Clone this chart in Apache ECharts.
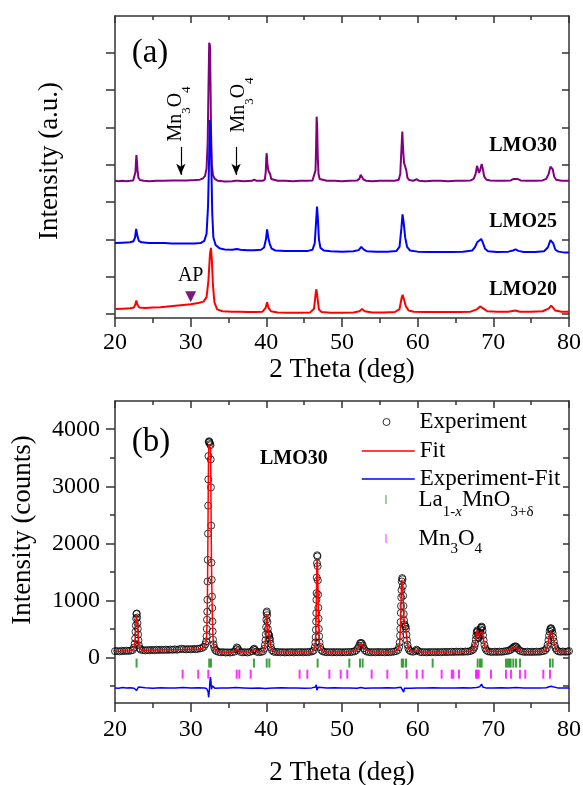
<!DOCTYPE html>
<html><head><meta charset="utf-8">
<script src="https://cdn.jsdelivr.net/npm/echarts@6/dist/echarts.min.js"></script>
<style>html,body{margin:0;padding:0;background:#fff}#c{width:583px;height:785px}</style>
</head><body><div id="c"></div><script>
const FONT = "Liberation Serif";

// ---------- Panel (a): offset XRD patterns (arb. units) ----------
const lmo30 = [[20,3.57],[20.5,3.56],[21,3.57],[21.5,3.56],[22,3.57],[22.4,3.58],[22.6,3.63],[22.7,3.8],[22.78,4.1],[22.83,4.26],[22.9,4.1],[23.0,3.8],[23.1,3.65],[23.3,3.59],[23.8,3.57],[24.5,3.56],[25.5,3.57],[26.5,3.57],[27.5,3.58],[28.5,3.58],[29.5,3.58],[30.5,3.59],[31.2,3.6],[31.6,3.63],[31.9,3.7],[32.1,3.9],[32.25,4.6],[32.35,6.0],[32.45,7.27],[32.55,7.2],[32.62,6.2],[32.7,4.8],[32.8,4.0],[32.95,3.72],[33.2,3.62],[33.6,3.57],[34.5,3.55],[35.5,3.56],[35.9,3.57],[36.1,3.61],[36.3,3.57],[37,3.56],[38.1,3.57],[38.4,3.6],[38.7,3.57],[39.5,3.57],[39.8,3.6],[39.92,3.8],[40.0,4.2],[40.05,4.31],[40.15,4.0],[40.27,3.84],[40.4,3.86],[40.5,3.75],[40.65,3.62],[40.9,3.58],[41.5,3.57],[42.5,3.57],[43.5,3.56],[44.5,3.57],[45.5,3.57],[46.1,3.58],[46.35,3.62],[46.5,3.85],[46.58,4.5],[46.65,5.29],[46.72,5.0],[46.8,4.2],[46.9,3.75],[47.05,3.62],[47.3,3.58],[48,3.57],[49,3.57],[50,3.56],[51,3.57],[52,3.58],[52.3,3.62],[52.47,3.73],[52.65,3.68],[52.85,3.6],[53.2,3.57],[54,3.56],[55,3.57],[56,3.57],[57,3.57],[57.5,3.6],[57.7,3.75],[57.85,4.4],[57.97,4.89],[58.08,4.4],[58.2,4.05],[58.38,4.07],[58.5,3.85],[58.65,3.65],[58.9,3.59],[59.4,3.57],[59.9,3.61],[60.2,3.57],[61,3.56],[62,3.57],[63,3.57],[64,3.56],[65,3.57],[66,3.57],[67,3.58],[67.4,3.62],[67.65,3.75],[67.85,3.97],[67.95,3.95],[68.1,3.78],[68.25,3.85],[68.46,4.02],[68.6,3.9],[68.8,3.68],[69.1,3.6],[69.6,3.58],[70.5,3.57],[71.5,3.57],[72.3,3.58],[72.7,3.62],[72.95,3.65],[73.2,3.62],[73.6,3.58],[74.5,3.57],[75.5,3.57],[76.5,3.58],[77.0,3.62],[77.3,3.75],[77.55,3.95],[77.7,3.98],[77.85,3.88],[78.05,3.68],[78.3,3.6],[79,3.57],[80,3.57]];
const lmo25 = [[20,1.9],[21,1.91],[22,1.92],[22.45,1.95],[22.65,2.05],[22.8,2.28],[22.95,2.1],[23.15,1.96],[23.5,1.92],[24.5,1.9],[25.5,1.9],[26.5,1.9],[27.5,1.89],[28.5,1.89],[29.5,1.89],[30.5,1.89],[31.3,1.9],[31.8,1.96],[32.1,2.15],[32.3,2.9],[32.45,4.3],[32.55,5.2],[32.65,4.9],[32.75,3.8],[32.85,2.7],[33.0,2.05],[33.3,1.85],[33.8,1.76],[34.5,1.73],[35.5,1.72],[36.1,1.74],[36.6,1.72],[37.5,1.71],[38.4,1.71],[39.3,1.72],[39.7,1.78],[39.95,2.0],[40.1,2.27],[40.25,2.05],[40.45,1.88],[40.7,1.75],[41.2,1.7],[42.5,1.69],[44,1.69],[45.5,1.69],[46.1,1.72],[46.4,1.9],[46.6,2.55],[46.7,2.88],[46.8,2.6],[46.95,2.0],[47.15,1.77],[47.6,1.7],[48.5,1.68],[50,1.67],[51.5,1.68],[52.2,1.71],[52.55,1.8],[52.85,1.73],[53.3,1.68],[54.5,1.67],[56,1.67],[57.2,1.69],[57.6,1.8],[57.85,2.3],[58.0,2.67],[58.15,2.45],[58.35,2.05],[58.6,1.8],[59,1.7],[60,1.67],[61.5,1.66],[63,1.66],[64.5,1.66],[66,1.67],[67.2,1.7],[67.6,1.8],[67.9,1.93],[68.1,1.92],[68.4,2.01],[68.6,1.92],[68.9,1.75],[69.3,1.68],[70.5,1.66],[72,1.67],[72.6,1.7],[72.95,1.73],[73.3,1.69],[74,1.66],[75.5,1.66],[76.7,1.68],[77.2,1.78],[77.55,1.98],[77.7,2.0],[77.9,1.9],[78.2,1.72],[78.6,1.67],[79.3,1.65],[80,1.65]];
const lmo20 = [[20,0.13],[21,0.14],[22,0.15],[22.5,0.17],[22.7,0.26],[22.82,0.36],[22.95,0.25],[23.2,0.17],[24,0.16],[25,0.17],[26,0.18],[27,0.2],[28,0.22],[29,0.24],[30,0.26],[31,0.29],[31.7,0.33],[32.1,0.45],[32.35,0.9],[32.55,1.6],[32.68,1.77],[32.8,1.45],[32.95,0.75],[33.15,0.3],[33.5,0.12],[34.2,0.07],[35.5,0.06],[36.5,0.06],[37.5,0.05],[38.5,0.05],[39.5,0.06],[39.9,0.16],[40.1,0.31],[40.3,0.16],[40.6,0.07],[41.5,0.04],[43,0.03],[44.5,0.03],[45.8,0.04],[46.3,0.14],[46.55,0.6],[46.62,0.66],[46.75,0.45],[46.95,0.12],[47.3,0.05],[48.5,0.03],[50,0.03],[51.5,0.04],[52.3,0.07],[52.65,0.13],[53,0.07],[54,0.04],[55.5,0.04],[57,0.05],[57.6,0.13],[57.9,0.45],[58.02,0.51],[58.2,0.38],[58.45,0.2],[58.8,0.09],[59.5,0.06],[61,0.05],[62.5,0.05],[64,0.05],[65.5,0.05],[67,0.06],[67.8,0.12],[68.25,0.2],[68.45,0.21],[68.7,0.14],[69.2,0.07],[70.5,0.06],[72,0.06],[72.9,0.09],[73.5,0.06],[75,0.06],[76.5,0.07],[77.3,0.14],[77.65,0.22],[77.85,0.2],[78.2,0.09],[79,0.06],[80,0.06]];
const intensityTicks = [0,1,2,3,4,5,6,7];
const thetaTicks = [20,30,40,50,60,70,80];

// ---------- Panel (b): Rietveld refinement of LMO30 (counts) ----------
const experiment = [[20.0,108],[20.3,112],[20.6,104],[20.9,115],[21.2,110],[21.5,118],[21.8,112],[22.1,120],[22.35,130],
[22.5,170],[22.6,240],[22.66,330],[22.71,450],[22.75,560],[22.79,680],[22.83,760],[22.88,770],[22.93,700],[22.97,600],[23.01,500],[23.05,400],[23.1,300],[23.17,210],[23.26,160],[23.4,135],
[23.7,128],[24.0,122],[24.3,130],[24.6,124],[24.9,132],[25.2,126],[25.5,134],[25.8,128],[26.1,135],[26.4,129],[26.7,136],[27.0,130],[27.3,138],[27.6,132],[27.9,140],[28.2,134],[28.5,142],[28.8,150],[29.1,145],[29.4,140],[29.7,146],[30.0,140],[30.3,148],[30.6,142],[30.9,150],[31.2,155],[31.5,165],[31.75,185],
[31.95,230],[32.05,280],[32.1,370],[32.13,500],[32.16,660],[32.19,800],[32.21,1010],[32.23,1330],[32.26,1710],[32.29,2170],[32.31,2660],[32.33,3120],[32.35,3530],[32.38,3776],[32.44,3790],[32.5,3770],[32.56,3740],[32.62,3720],[32.65,3470],[32.68,2980],[32.71,2310],[32.74,1660],[32.78,1360],[32.82,1066],[32.85,864],[32.88,630],[32.91,455],[32.95,310],[33.02,230],[33.12,170],[33.25,130],
[33.4,110],[33.7,95],[34.0,88],[34.3,92],[34.6,85],[34.9,90],[35.2,84],[35.5,92],[35.8,100],[36.0,140],[36.1,175],[36.2,160],[36.35,125],
[36.6,95],[36.9,88],[37.2,92],[37.5,86],[37.8,94],[38.1,110],[38.3,140],[38.4,152],[38.5,130],[38.7,100],[39.0,90],[39.3,96],[39.55,105],
[39.72,150],[39.82,220],[39.88,300],[39.93,400],[39.97,530],[40.0,660],[40.03,780],[40.07,805],[40.11,740],[40.15,620],[40.2,500],[40.26,420],[40.32,400],[40.38,380],[40.43,339],[40.48,309],[40.55,240],[40.63,170],[40.75,125],
[40.95,100],[41.25,92],[41.55,96],[41.85,88],[42.15,94],[42.45,86],[42.75,92],[43.05,88],[43.35,95],[43.65,87],[43.95,93],[44.25,90],[44.55,96],[44.85,88],[45.15,94],[45.45,90],[45.75,97],[46.05,105],[46.25,120],
[46.4,180],[46.48,260],[46.52,355],[46.55,484],[46.58,630],[46.6,776],[46.62,1010],[46.64,1126],[46.66,1400],[46.69,1650],[46.72,1790],[46.75,1770],[46.78,1600],[46.81,1350],[46.84,1100],[46.87,870],[46.9,680],[46.94,500],[46.98,370],[47.04,260],[47.12,180],[47.25,130],
[47.45,105],[47.75,95],[48.05,90],[48.35,96],[48.65,88],[48.95,94],[49.25,89],[49.55,95],[49.85,88],[50.15,93],[50.45,90],[50.75,96],[51.05,92],[51.35,98],[51.65,105],[51.9,125],
[52.1,160],[52.25,200],[52.38,245],[52.5,255],[52.62,245],[52.75,210],[52.88,160],[53.02,125],
[53.25,102],[53.55,94],[53.85,88],[54.15,95],[54.45,89],[54.75,96],[55.05,90],[55.35,94],[55.65,88],[55.95,95],[56.25,90],[56.55,97],[56.85,100],[57.15,110],[57.4,130],
[57.55,180],[57.62,260],[57.67,380],[57.71,500],[57.74,620],[57.77,780],[57.8,900],[57.83,1050],[57.86,1180],[57.9,1330],[57.95,1390],[58.0,1370],[58.04,1250],[58.08,1080],[58.12,900],[58.16,760],[58.2,650],[58.26,580],[58.33,545],[58.4,540],[58.46,500],[58.52,397],[58.58,300],[58.66,220],[58.76,160],[58.9,125],
[59.1,105],[59.4,98],[59.7,110],[59.85,135],[60.0,120],[60.3,96],[60.6,90],[60.9,95],[61.2,88],[61.5,94],[61.8,90],[62.1,96],[62.4,89],[62.7,95],[63.0,90],[63.3,96],[63.6,92],[63.9,97],[64.2,93],[64.5,99],[64.8,95],[65.1,100],[65.4,96],[65.7,101],[66.0,97],[66.3,103],[66.6,100],[66.9,108],[67.15,120],[67.35,140],
[67.5,180],[67.6,240],[67.68,310],[67.74,380],[67.8,440],[67.86,472],[67.92,455],[67.98,400],[68.04,350],[68.1,340],[68.17,380],[68.24,440],[68.3,490],[68.37,520],[68.44,540],[68.5,525],[68.57,470],[68.64,390],[68.72,300],[68.82,220],[68.94,160],[69.08,125],
[69.3,105],[69.6,98],[69.9,94],[70.2,100],[70.5,95],[70.8,101],[71.1,97],[71.4,104],[71.7,110],[72.0,118],[72.25,130],
[72.45,150],[72.6,170],[72.75,185],[72.9,195],[73.05,185],[73.2,160],[73.38,130],
[73.6,110],[73.9,100],[74.2,95],[74.5,100],[74.8,94],[75.1,99],[75.4,95],[75.7,101],[76.0,97],[76.3,104],[76.6,110],[76.85,125],
[77.05,160],[77.18,220],[77.28,300],[77.36,380],[77.44,450],[77.52,495],[77.6,514],[77.68,500],[77.76,470],[77.84,420],[77.92,350],[78.0,280],[78.1,210],[78.22,160],[78.38,125],
[78.6,105],[78.9,98],[79.2,104],[79.5,97],[79.8,103],[80.0,110]];
const fit = [[20,105],[21,112],[22,118],[22.4,135],[22.55,190],[22.65,310],[22.72,470],[22.78,650],[22.84,740],[22.9,740],[22.96,620],[23.02,470],[23.1,310],[23.2,190],[23.35,140],[23.7,125],[25,128],[27,133],[28.9,138],[29.5,140],[31,145],[31.5,160],[31.8,185],[32.0,250],[32.1,360],[32.16,600],[32.2,900],[32.24,1400],[32.28,2100],[32.32,2900],[32.36,3500],[32.4,3740],[32.45,3760],[32.5,3740],[32.56,3720],[32.62,3650],[32.66,3200],[32.7,2500],[32.74,1800],[32.78,1350],[32.83,980],[32.88,640],[32.94,380],[33.02,230],[33.15,150],[33.4,110],[34,92],[35.5,90],[35.95,110],[36.1,150],[36.25,115],[36.6,92],[38.0,92],[38.25,110],[38.4,135],[38.55,105],[39,92],[39.6,110],[39.8,190],[39.9,330],[39.97,560],[40.03,760],[40.08,780],[40.14,640],[40.2,500],[40.28,430],[40.36,390],[40.45,330],[40.55,230],[40.68,140],[41,100],[43,92],[45,93],[46,100],[46.35,150],[46.47,250],[46.53,420],[46.58,700],[46.62,1050],[46.66,1450],[46.7,1720],[46.74,1740],[46.78,1580],[46.82,1280],[46.86,950],[46.9,680],[46.96,430],[47.04,250],[47.15,160],[47.4,110],[48,93],[51,95],[51.8,115],[52.1,160],[52.3,215],[52.45,240],[52.6,235],[52.78,195],[52.95,140],[53.2,105],[54,92],[56.5,95],[57.2,115],[57.5,160],[57.62,260],[57.7,450],[57.76,720],[57.82,1020],[57.87,1250],[57.92,1360],[57.97,1380],[58.02,1300],[58.08,1080],[58.14,830],[58.2,660],[58.28,560],[58.36,530],[58.42,510],[58.5,420],[58.6,290],[58.72,190],[58.88,130],[59.2,102],[59.7,108],[59.87,128],[60.05,112],[60.5,95],[63,95],[66,100],[67,112],[67.35,140],[67.55,210],[67.68,320],[67.78,430],[67.86,470],[67.94,440],[68.02,370],[68.1,340],[68.2,380],[68.3,440],[68.4,470],[68.48,465],[68.58,420],[68.68,330],[68.8,230],[68.95,150],[69.2,110],[70.5,98],[72,115],[72.45,148],[72.7,175],[72.9,185],[73.1,172],[73.35,132],[73.7,105],[75,97],[76.5,106],[76.9,125],[77.1,165],[77.25,260],[77.38,380],[77.5,445],[77.6,458],[77.7,450],[77.82,400],[77.95,310],[78.08,220],[78.25,150],[78.5,112],[79,100],[80,105]];
const difference = [[20,-535],[20.5,-540],[21,-530],[21.5,-538],[22,-533],[22.5,-540],[22.75,-560],[22.85,-580],[22.95,-545],[23.1,-520],[23.3,-538],[24,-534],[25,-540],[26,-532],[27,-537],[28,-535],[29,-530],[30,-538],[31,-533],[31.8,-537],[32.1,-545],[32.2,-530],[32.3,-600],[32.38,-700],[32.42,-710],[32.48,-560],[32.55,-420],[32.62,-345],[32.68,-420],[32.75,-560],[32.85,-500],[32.95,-520],[33.2,-540],[34,-535],[35,-538],[36,-530],[36.2,-525],[37,-535],[38,-540],[39,-535],[39.9,-545],[40.05,-575],[40.15,-515],[40.3,-540],[41,-535],[42,-532],[43,-538],[44,-535],[45,-540],[46,-535],[46.5,-520],[46.6,-480],[46.68,-575],[46.75,-585],[46.85,-525],[47,-540],[48,-535],[49,-532],[50,-538],[51,-535],[52,-540],[52.5,-528],[53,-540],[54,-535],[55,-538],[56,-532],[57,-536],[57.8,-525],[57.9,-500],[58.05,-560],[58.15,-610],[58.25,-540],[58.5,-530],[59,-540],[60,-535],[61,-538],[62,-532],[63,-536],[64,-535],[65,-538],[66,-533],[67,-536],[67.8,-528],[68.2,-515],[68.45,-468],[68.6,-520],[69,-535],[70,-538],[71,-533],[72,-536],[73,-530],[74,-538],[75,-535],[76,-536],[77,-532],[77.6,-505],[77.8,-540],[78.5,-535],[79.5,-538],[80,-535]];
const lmnoReflections = [22.85,32.45,32.68,38.36,40.05,40.4,46.78,50.97,52.38,52.73,57.9,58.1,58.46,61.98,67.93,68.24,68.46,71.67,71.9,72.11,72.29,72.64,73.0,73.52,77.49,77.84];
const mn3o4Reflections = [28.94,31.0,32.33,36.08,36.43,37.93,44.4,45.42,48.33,49.83,50.7,53.92,55.99,58.55,59.87,60.66,63.17,64.5,64.71,65.46,67.71,67.89,68.07,69.69,71.67,72.33,73.52,74.22,76.6,77.49];
const countTickLabels = [0,1000,2000,3000,4000];
const countMinorTicks = [-500,500,1500,2500,3500];
const lmnoRow = -100, mn3o4Row = -295;

const frame = {color:'#333', width:1.5};

function xAx(grid, pos) {
  return {
    gridIndex:grid, type:'value', min:20, max:80, interval:10, position:pos,
    axisLine:{show:true, onZero:false, lineStyle:frame},
    axisTick:{show:true, inside:pos==='top', length:pos==='top'?7:9, lineStyle:frame},
    minorTick:{show:true, splitNumber:2, length:pos==='top'?4:5, lineStyle:frame},
    axisLabel:{show:false},
    splitLine:{show:false}
  };
}
function yAx(grid, pos, min, max, extra) {
  return Object.assign({
    gridIndex:grid, type:'value', min:min, max:max, position:pos,
    axisLine:{show:true, onZero:false, lineStyle:frame},
    axisLabel:{show:false},
    splitLine:{show:false}
  }, extra||{});
}

const chart = echarts.init(document.getElementById('c'), null, {renderer:'canvas'});
const subRich = (size, lh, sub, off) => ({
  n:{fontFamily:FONT, fontSize:size, lineHeight:lh, color:'#000'},
  s:{fontFamily:FONT, fontSize:sub, lineHeight:off, verticalAlign:'bottom', color:'#000'},
  si:{fontFamily:FONT, fontSize:sub, fontStyle:'italic', lineHeight:off, verticalAlign:'bottom', color:'#000'}
});
const legendText = {fontFamily:FONT, fontSize:23, color:'#000'};

chart.setOption({
  animation:false,
  textStyle:{fontFamily:FONT},
  grid:[
    {left:115, top:16, width:454, height:302},
    {left:115, top:401, width:454, height:302}
  ],
  xAxis:[ xAx(0,'bottom'), xAx(0,'top'), xAx(1,'bottom'), xAx(1,'top') ],
  yAxis:[
    yAx(0,'left',-0.11,7.99,{axisTick:{show:true, length:9, lineStyle:frame, customValues:intensityTicks}}),
    yAx(0,'right',-0.11,7.99,{axisTick:{show:true, inside:true, length:7, lineStyle:frame, customValues:intensityTicks}}),
    yAx(1,'left',-800,4495,{axisTick:{show:true, length:9, lineStyle:frame, customValues:countTickLabels}}),
    yAx(1,'left',-800,4495,{axisLine:{show:false}, axisTick:{show:true, length:5, lineStyle:frame, customValues:countMinorTicks}}),
    yAx(1,'right',-800,4495,{axisTick:{show:true, inside:true, length:6, lineStyle:frame, customValues:countMinorTicks.concat(countTickLabels)}})
  ],
  legend:[
    {left:382.5, top:410.5, padding:0, itemWidth:7, itemHeight:7, selectedMode:false,
     data:[{name:'Experiment', icon:'circle', itemStyle:{color:'rgba(0,0,0,0)', borderColor:'#000', borderWidth:1}}],
     textStyle:Object.assign({padding:[0,0,0,24.5]}, legendText)},
    {left:361, top:439.5, padding:0, itemWidth:53, itemHeight:14, selectedMode:false, data:['Fit'],
     itemStyle:{opacity:0}, lineStyle:{color:'#FF0000', width:1.5}, textStyle:legendText},
    {left:361, top:467.5, padding:0, itemWidth:53, itemHeight:14, selectedMode:false, data:['Experiment-Fit'],
     itemStyle:{opacity:0}, lineStyle:{color:'#0000FF', width:1.5}, textStyle:legendText},
    {left:385.5, top:488, padding:0, itemWidth:2, itemHeight:9, selectedMode:false,
     data:[{name:'LaMnO', icon:'path://M0,0H1V9H0Z'}],
     formatter:() => '{n|La}{s|1-}{si|x}{n|MnO}{s|3+δ}',
     textStyle:Object.assign({padding:[0,0,0,26.5], rich:subRich(23,40,15,14)}, legendText)},
    {left:385.5, top:527, padding:0, itemWidth:2, itemHeight:9, selectedMode:false,
     data:[{name:'Mn3O4', icon:'path://M0,0H1V9H0Z'}],
     formatter:() => '{n|Mn}{s|3}{n|O}{s|4}',
     textStyle:Object.assign({padding:[0,0,0,26.5], rich:subRich(23,36,15,14)}, legendText)}
  ],
  series:[
    {name:'LMO30', type:'line', xAxisIndex:0, yAxisIndex:0, data:lmo30, symbol:'none', lineStyle:{color:'#800080', width:2},
     markLine:{silent:true, symbol:['none','arrow'], symbolSize:[7,11], label:{show:false},
       lineStyle:{color:'#000', width:1.2, type:'solid'},
       data:[[{coord:[28.7,4.48]},{coord:[28.7,3.73]}],[{coord:[36.0,4.48]},{coord:[36.0,3.73]}]]}},
    {name:'LMO25', type:'line', xAxisIndex:0, yAxisIndex:0, data:lmo25, symbol:'none', lineStyle:{color:'#0000FF', width:2}},
    {name:'LMO20', type:'line', xAxisIndex:0, yAxisIndex:0, data:lmo20, symbol:'none', lineStyle:{color:'#FF0000', width:2},
     markPoint:{silent:true, symbol:'triangle', symbolRotate:180, symbolSize:11, itemStyle:{color:'#7B1A7B'},
       label:{show:true, position:'top', distance:5, formatter:'AP', color:'#000', fontFamily:FONT, fontSize:20},
       data:[{coord:[30.0,0.46]}]}},
    {name:'Experiment', type:'scatter', xAxisIndex:2, yAxisIndex:2, data:experiment, symbol:'circle', symbolSize:7,
     itemStyle:{color:'rgba(0,0,0,0)', borderColor:'#000', borderWidth:1}, z:2},
    {name:'Fit', type:'line', xAxisIndex:2, yAxisIndex:2, data:fit, symbol:'none', itemStyle:{color:'#FF0000'}, lineStyle:{color:'#FF0000', width:1.5}, z:3},
    {name:'Experiment-Fit', type:'line', xAxisIndex:2, yAxisIndex:2, data:difference, symbol:'none', itemStyle:{color:'#0000FF'}, lineStyle:{color:'#0000FF', width:1.5}},
    {name:'LaMnO', type:'scatter', xAxisIndex:2, yAxisIndex:2, data:lmnoReflections.map(t => [t, lmnoRow]), symbol:'rect', symbolSize:[2,9], itemStyle:{color:'#108A10'}},
    {name:'Mn3O4', type:'scatter', xAxisIndex:2, yAxisIndex:2, data:mn3o4Reflections.map(t => [t, mn3o4Row]), symbol:'rect', symbolSize:[2,9], itemStyle:{color:'#FF00FF'}}
  ]
});

// Axis tick labels and titles as serif text, placed through the axes' own scales
const txt = (x, y, text, size, align, extra) => Object.assign({type:'text', x:x, y:y, silent:true,
  style:{text:text, fontFamily:FONT, fontSize:size, fill:'#000', align:align||'center', verticalAlign:'middle'}}, extra||{});
const g = [];
const botA = chart.convertToPixel({yAxisIndex:0}, -0.11);
const topA = chart.convertToPixel({yAxisIndex:0}, 7.99);
const botB = chart.convertToPixel({yAxisIndex:2}, -800);
const topB = chart.convertToPixel({yAxisIndex:2}, 4495);
const leftX = chart.convertToPixel({xAxisIndex:0}, 20);
const midX = chart.convertToPixel({xAxisIndex:0}, 50);
thetaTicks.forEach(t => {
  g.push(txt(chart.convertToPixel({xAxisIndex:0}, t), botA + 25, String(t), 24));
  g.push(txt(chart.convertToPixel({xAxisIndex:2}, t), botB + 27, String(t), 24));
});
countTickLabels.forEach(v => g.push(txt(leftX - 15, chart.convertToPixel({yAxisIndex:2}, v), String(v), 24, 'right')));
g.push(txt(midX, botA + 52, '2 Theta (deg)', 27));
g.push(txt(midX, botB + 70, '2 Theta (deg)', 27));
g.push(txt(leftX - 65, (botA + topA) / 2 - 6, 'Intensity (a.u.)', 27, 'center', {rotation:Math.PI/2}));
g.push(txt(leftX - 92, (botB + topB) / 2 - 22, 'Intensity (counts)', 27, 'center', {rotation:Math.PI/2}));
// panel letters and sample labels
g.push(txt(150, 53, '(a)', 33));
g.push(txt(151, 442, '(b)', 33));
[['LMO30',146],['LMO25',222],['LMO20',290]].forEach(([s, y]) =>
  g.push({type:'text', x:557, y:y, style:{text:s, fontFamily:FONT, fontSize:20, fontWeight:'bold', fill:'#000', align:'right', verticalAlign:'middle'}}));
g.push({type:'text', x:260, y:459, style:{text:'LMO30', fontFamily:FONT, fontSize:20, fontWeight:'bold', fill:'#000', align:'left', verticalAlign:'middle'}});
// Mn3O4 annotations above the arrows
g.push({type:'text', x:176, y:114, rotation:Math.PI/2, style:{text:'{n|Mn}{s|3}{n|O}{s|4}', rich:subRich(20,34,13,13), align:'center', verticalAlign:'middle'}});
g.push({type:'text', x:239, y:105, rotation:Math.PI/2, style:{text:'{n|Mn}{s|3}{n|O}{s|4}', rich:subRich(20,34,13,13), align:'center', verticalAlign:'middle'}});
chart.setOption({graphic:g});
</script></body></html>
